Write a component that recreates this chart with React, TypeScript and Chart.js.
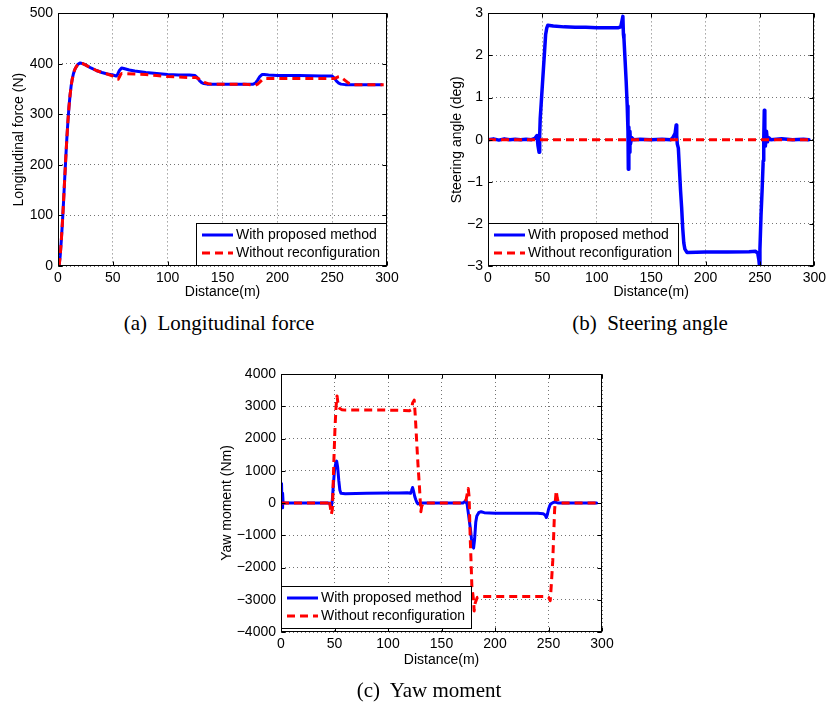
import React, { useEffect, useRef } from 'react';
import { Chart, registerables } from 'chart.js';

Chart.register(...registerables);
Chart.defaults.font.family = '"Liberation Sans", Arial, Helvetica, sans-serif';
Chart.defaults.font.size = 14;
Chart.defaults.color = '#000';

// ---------- data ----------
const legendLabels = ['With proposed method', 'Without reconfiguration'];
const distanceTicks = [0, 50, 100, 150, 200, 250, 300];
const forceTicks = [0, 100, 200, 300, 400, 500];
const steeringTicks = [-3, -2, -1, 0, 1, 2, 3];
const yawTicks = [-4000, -3000, -2000, -1000, 0, 1000, 2000, 3000, 4000];
const captions = ['(a)  Longitudinal force', '(b)  Steering angle', '(c)  Yaw moment'];
const yTitles = ['Longitudinal force (N)', 'Steering angle (deg)', 'Yaw moment (Nm)'];
const xTitle = 'Distance(m)';

type Pt = [number, number];

const forceProposed: Pt[] = [
  [1, 0], [2, 20], [3, 50], [4, 85], [5, 125], [6, 168], [7, 210], [8, 250], [9, 285], [10, 315],
  [11, 338], [12, 357], [13, 370], [14, 380], [15, 387], [16, 392], [18, 399], [20, 402], [22, 401],
  [25, 398], [30, 392], [35, 387], [40, 383], [45, 380], [50, 378], [53, 376], [54, 378], [56, 387],
  [58, 392], [60, 391], [65, 388], [70, 386], [80, 383], [90, 381], [100, 379], [110, 378], [120, 378],
  [125, 377], [127, 373], [129, 367], [131, 363], [133, 361], [136, 360], [150, 360], [170, 360],
  [178, 360], [180, 362], [182, 368], [184, 375], [186, 379], [188, 379], [192, 378], [200, 377],
  [220, 377], [240, 376], [250, 376], [252, 372], [254, 366], [256, 362], [258, 360], [262, 359],
  [280, 359], [295, 359],
];
const forceNoReconfig: Pt[] = [
  [1, 0], [2, 20], [3, 50], [4, 85], [5, 125], [6, 168], [7, 210], [8, 250], [9, 285], [10, 315],
  [11, 338], [12, 357], [13, 370], [14, 380], [15, 387], [16, 392], [18, 399], [20, 402], [22, 401],
  [25, 398], [30, 392], [35, 387], [40, 383], [45, 380], [50, 376], [53, 372], [55, 370], [56, 374],
  [57, 379], [58, 381], [70, 380], [80, 379], [90, 377], [100, 375], [110, 374], [120, 373], [126, 373],
  [128, 371], [131, 367], [134, 363], [137, 361], [140, 360], [170, 360], [180, 358], [182, 360],
  [184, 364], [186, 368], [188, 371], [200, 371], [240, 371], [252, 371], [255, 374], [257, 375],
  [259, 372], [262, 367], [265, 362], [268, 359], [280, 359], [297, 359],
];

const steeringProposed: Pt[] = [
  [0, 0], [5, 0.02], [10, -0.01], [15, 0.02], [20, 0], [25, 0.01], [30, 0], [35, 0.01], [40, 0],
  [43, 0.03], [45, 0.1], [46, -0.15], [47, -0.3], [47.5, 0.1], [48, 0.5], [49, 0.9], [50, 1.3],
  [51, 1.7], [52, 2.1], [53, 2.5], [54, 2.65], [55, 2.72], [60, 2.7], [70, 2.68], [80, 2.67],
  [90, 2.67], [100, 2.66], [110, 2.66], [120, 2.66], [122, 2.68], [123, 2.8], [124, 2.93],
  [124.5, 2.5], [125, 2.4], [126, 1.9], [127, 1.4], [128, 0.8], [128.7, 0.2], [129, -0.7],
  [129.5, 0.3], [130, -0.3], [130.5, 0.2], [131, -0.1], [132, 0.05], [134, 0], [140, 0.01],
  [150, 0], [160, 0.01], [168, 0], [170, 0.05], [172, 0.15], [173, 0.35], [173.5, 0.1], [174, -0.1],
  [175, -0.2], [176, -0.7], [177, -1.2], [178, -1.6], [179, -2.1], [180, -2.45], [181, -2.6],
  [183, -2.68], [200, -2.67], [220, -2.67], [240, -2.66], [246, -2.65], [248, -2.7], [249, -2.85],
  [249.6, -3.0], [250, -2.6], [251, -1.8], [252, -1.2], [253, -0.5], [253.5, 0.0], [254, 0.7],
  [254.5, 0.2], [255, -0.15], [256, 0.2], [257, -0.05], [258, 0.05], [260, 0], [270, 0.02],
  [280, 0], [290, 0.01], [295, 0],
];
const steeringNoReconfig: Pt[] = [
  [0, 0], [50, 0], [100, 0], [150, 0], [200, 0], [250, 0], [295, 0],
];

const yawProposed: Pt[] = [
  [0, 0], [0.5, 600], [1, -150], [1.5, 300], [2, 0], [10, 0], [20, 0], [30, 0], [40, 0], [45, 0],
  [46, -50], [47, -120], [48, 100], [49, 600], [50, 1000], [51, 1200], [52, 1300], [53, 1100],
  [54, 700], [55, 400], [56, 300], [60, 290], [80, 300], [100, 310], [110, 310], [118, 320],
  [121, 300], [122, 380], [123, 480], [124, 350], [125, 200], [126, 100], [127, 20], [128, -30],
  [130, 0], [140, 0], [160, 0], [170, 0], [172, 50], [173, 90], [174, -50], [175, -300], [176, -550],
  [177, -800], [178, -1100], [179, -1300], [180, -1400], [181, -1100], [182, -600], [183, -400],
  [185, -290], [187, -270], [190, -300], [200, -320], [220, -320], [240, -320], [245, -330],
  [247, -380], [248, -450], [249, -350], [250, -200], [251, -100], [252, -30], [254, 10], [256, 30],
  [258, 10], [260, 0], [280, 0], [295, 0],
];
const yawNoReconfig: Pt[] = [
  [0, 0], [10, 0], [20, 0], [30, 0], [40, 0], [44, 0], [45, 90], [46, -100], [47, -350], [48, -200],
  [48.5, 300], [49.5, 1400], [50.5, 2366], [51.5, 3000], [52.4, 3320], [53.5, 3000], [55, 2930],
  [57, 2890], [60, 2880], [80, 2880], [100, 2880], [115, 2870], [120, 2860], [122, 2900],
  [123, 3100], [124.5, 3190], [125.5, 2700], [126.9, 1850], [128, 1200], [129.4, 500], [130.7, -270],
  [131.5, -100], [133, 0], [140, 0], [160, 0], [170, 0], [173, 100], [175, 450], [175.8, 200],
  [176.8, -1050], [177.6, -1800], [178.4, -2600], [180, -3020], [180.5, -3350], [181.5, -3100],
  [183.4, -2930], [186, -2900], [200, -2900], [220, -2900], [240, -2900], [248, -2900],
  [250, -2920], [251.6, -3030], [252.5, -2600], [254, -1780], [255.7, -220], [257.2, 380],
  [258.2, 150], [259.4, 0], [280, 0], [295, 0],
];

// ---------- helpers ----------
const fmt = (v: number) => (v < 0 ? '\u2212' + Math.abs(v) : String(v));

const framePlugin = {
  id: 'frameLegend',
  afterDraw(chart: any, _args: any, opts: any) {
    const { ctx, chartArea: a } = chart;
    const L = Math.round(a.left) + 0.5;
    const T = Math.round(a.top) + 0.5;
    const R = Math.round(a.right) - 0.5;
    const B = Math.round(a.bottom) - 0.5;
    ctx.save();
    ctx.setLineDash([]);
    ctx.strokeStyle = '#000';
    ctx.lineWidth = 1;
    // inward tick marks
    const xs = chart.scales.x;
    const ys = chart.scales.y;
    const tl = 4;
    ctx.beginPath();
    xs.ticks.forEach((t: any) => {
      const px = Math.round(xs.getPixelForValue(t.value)) + 0.5;
      ctx.moveTo(px, B); ctx.lineTo(px, B - tl);
      ctx.moveTo(px, T); ctx.lineTo(px, T + tl);
    });
    ys.ticks.forEach((t: any) => {
      const py = Math.round(ys.getPixelForValue(t.value)) + 0.5;
      ctx.moveTo(L, py); ctx.lineTo(L + tl, py);
      ctx.moveTo(R, py); ctx.lineTo(R - tl, py);
    });
    ctx.stroke();
    ctx.strokeRect(L, T, R - L, B - T);

    // legend box inside plot
    const w = 191;
    const h = 43;
    const bx = opts.corner === 'right' ? Math.round(a.right) - w : Math.round(a.left);
    const by = Math.round(a.bottom) - (opts.bottomOffset || 0) - h;
    ctx.fillStyle = '#fff';
    ctx.fillRect(bx, by, w, h);
    ctx.strokeRect(bx + 0.5, by + 0.5, w - 1, h - 1);
    const ds = chart.data.datasets;
    ctx.font = '14px "Liberation Sans", Arial, sans-serif';
    ctx.textBaseline = 'middle';
    ctx.textAlign = 'left';
    ds.forEach((d: any, i: number) => {
      const yy = by + 12 + i * 18;
      ctx.beginPath();
      ctx.strokeStyle = d.borderColor;
      ctx.lineWidth = 3;
      ctx.setLineDash(d.borderDash || []);
      ctx.moveTo(bx + 6, yy);
      ctx.lineTo(bx + 37, yy);
      ctx.stroke();
      ctx.setLineDash([]);
      ctx.fillStyle = '#000';
      ctx.fillText(d.label, bx + 40, yy + 0.5);
    });
    ctx.restore();
  },
};

interface PanelSpec {
  left: number; top: number; width: number; height: number;
  padding: { left: number; top: number; right: number; bottom: number };
  yAxisW: number; xAxisH: number;
  yTitlePad: number; xTitlePad: number;
  yMin: number; yMax: number; yTicks: number[];
  yTitle: string;
  blue: Pt[]; red: Pt[];
  blueWidth: number;
  corner: 'left' | 'right';
  bottomOffset: number;
}

function makeConfig(p: PanelSpec): any {
  return {
    type: 'line',
    data: {
      datasets: [
        {
          label: legendLabels[0],
          data: p.blue.map(([x, y]) => ({ x, y })),
          borderColor: '#0000ff',
          borderWidth: p.blueWidth,
          borderJoinStyle: 'round',
          borderCapStyle: 'round',
          pointRadius: 0,
          tension: 0,
          fill: false,
          order: 1,
        },
        {
          label: legendLabels[1],
          data: p.red.map(([x, y]) => ({ x, y })),
          borderColor: '#ff0000',
          borderWidth: 3,
          borderDash: [8, 5],
          borderJoinStyle: 'round',
          pointRadius: 0,
          tension: 0,
          fill: false,
          order: 0,
        },
      ],
    },
    options: {
      animation: false,
      responsive: false,
      devicePixelRatio: 1,
      layout: { padding: p.padding },
      plugins: {
        legend: { display: false },
        tooltip: { enabled: false },
        frameLegend: { corner: p.corner, bottomOffset: p.bottomOffset },
      },
      scales: {
        x: {
          type: 'linear',
          min: 0,
          max: 300,
          afterBuildTicks: (s: any) => { s.ticks = distanceTicks.map((v) => ({ value: v })); },
          afterFit: (s: any) => { s.height = p.xAxisH; },
          grid: { color: 'rgba(0,0,0,0.55)', lineWidth: 1, drawTicks: false },
          border: { display: false, dash: [1, 3] },
          ticks: { padding: 4, autoSkip: false, maxRotation: 0, color: '#000', font: { size: 14 }, callback: (v: any) => fmt(Number(v)) },
          title: { display: true, text: xTitle, color: '#000', font: { size: 14 }, padding: { top: 0, bottom: p.xTitlePad } },
        },
        y: {
          type: 'linear',
          min: p.yMin,
          max: p.yMax,
          afterBuildTicks: (s: any) => { s.ticks = p.yTicks.map((v) => ({ value: v })); },
          afterFit: (s: any) => { s.width = p.yAxisW; },
          grid: { color: 'rgba(0,0,0,0.55)', lineWidth: 1, drawTicks: false },
          border: { display: false, dash: [1, 3] },
          ticks: { padding: 5, autoSkip: false, color: '#000', font: { size: 14 }, callback: (v: any) => fmt(Number(v)) },
          title: { display: true, text: p.yTitle, color: '#000', font: { size: 14 }, padding: { top: p.yTitlePad, bottom: 0 } },
        },
      },
    },
    plugins: [framePlugin],
  };
}

const panels: PanelSpec[] = [
  {
    left: 0, top: 0, width: 410, height: 310,
    padding: { left: 0, top: 7, right: 23, bottom: 0 },
    yAxisW: 58, xAxisH: 44, yTitlePad: 10.6, xTitlePad: 9.6,
    yMin: 0, yMax: 500, yTicks: forceTicks, yTitle: yTitles[0],
    blue: forceProposed, red: forceNoReconfig, blueWidth: 3, corner: 'right', bottomOffset: 0,
  },
  {
    left: 420, top: 0, width: 410, height: 310,
    padding: { left: 0, top: 7, right: 13, bottom: 0 },
    yAxisW: 68, xAxisH: 44, yTitlePad: 28.3, xTitlePad: 9.6,
    yMin: -3, yMax: 3, yTicks: steeringTicks, yTitle: yTitles[1],
    blue: steeringProposed, red: steeringNoReconfig, blueWidth: 3.5, corner: 'left', bottomOffset: 0,
  },
  {
    left: 200, top: 360, width: 420, height: 320,
    padding: { left: 0, top: 14, right: 18, bottom: 0 },
    yAxisW: 81, xAxisH: 48, yTitlePad: 18.3, xTitlePad: 11.6,
    yMin: -4000, yMax: 4000, yTicks: yawTicks, yTitle: yTitles[2],
    blue: yawProposed, red: yawNoReconfig, blueWidth: 3, corner: 'left', bottomOffset: 3,
  },
];

function Panel({ spec }: { spec: PanelSpec }) {
  const ref = useRef<HTMLCanvasElement>(null);
  useEffect(() => {
    if (!ref.current) return;
    const chart = new Chart(ref.current, makeConfig(spec));
    return () => chart.destroy();
  }, [spec]);
  return (
    <canvas
      ref={ref}
      width={spec.width}
      height={spec.height}
      style={{ position: 'absolute', left: spec.left, top: spec.top, width: spec.width, height: spec.height }}
    />
  );
}

const captionPos = [
  { cx: 219, cy: 323 },
  { cx: 650, cy: 323 },
  { cx: 429, cy: 690 },
];

export default function App() {
  return (
    <div style={{ position: 'absolute', left: 0, top: 0, width: 830, height: 706, background: '#fff', overflow: 'hidden' }}>
      {panels.map((p, i) => (
        <Panel key={i} spec={p} />
      ))}
      {captions.map((c, i) => (
        <div
          key={'c' + i}
          style={{
            position: 'absolute',
            left: captionPos[i].cx - 200,
            top: captionPos[i].cy - 13,
            width: 400,
            height: 26,
            lineHeight: '26px',
            textAlign: 'center',
            whiteSpace: 'pre',
            fontFamily: '"Liberation Serif", "Times New Roman", serif',
            fontSize: 21,
            color: '#000',
          }}
        >
          {c}
        </div>
      ))}
    </div>
  );
}
